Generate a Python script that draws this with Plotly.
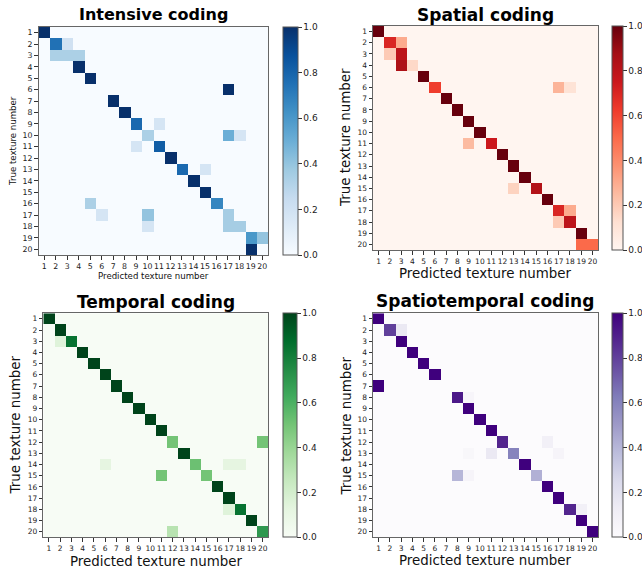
import numpy as np
import plotly.graph_objects as go
import plotly.express as px

labels = list(range(1, 21))
cb_ticks = [0.0, 0.2, 0.4, 0.6, 0.8, 1.0]
cb_text = ["0.0", "0.2", "0.4", "0.6", "0.8", "1.0"]

# Intensive coding (row = true, col = predicted)
int_rows = [1, 2, 2, 3, 3, 3, 4, 5, 6, 7, 8, 9, 9, 10, 10, 10, 11, 11, 12, 13, 13, 14, 15, 16, 16, 17, 17, 17, 18, 18, 18, 19, 19, 20]
int_cols = [1, 2, 3, 2, 3, 4, 4, 5, 17, 7, 8, 9, 11, 10, 17, 18, 9, 11, 12, 13, 15, 14, 15, 5, 16, 6, 10, 17, 10, 17, 18, 19, 20, 19]
int_vals = [1, .75, .2, .33, .33, .33, 1, 1, 1, 1, 1, .78, .17, .33, .5, .17, .17, .83, 1, .78, .17, 1, 1, .33, .67, .17, .4, .35, .17, .35, .35, .6, .4, 1]

# Spatial coding
spa_rows = [1, 2, 2, 3, 3, 4, 4, 5, 6, 6, 6, 7, 8, 9, 10, 11, 11, 12, 13, 14, 15, 15, 16, 17, 17, 18, 18, 19, 20, 20]
spa_cols = [1, 2, 3, 2, 3, 3, 4, 5, 6, 17, 18, 7, 8, 9, 10, 9, 11, 12, 13, 14, 13, 15, 16, 17, 18, 17, 18, 19, 19, 20]
spa_vals = [1, .7, .3, .2, .8, .85, .15, 1, .62, .27, .11, 1, 1, 1, 1, .25, .75, 1, 1, 1, .17, .83, 1, .7, .3, .2, .8, 1, .5, .5]

# Temporal coding
tem_rows = [1, 2, 3, 3, 4, 5, 6, 7, 8, 9, 10, 11, 12, 12, 13, 14, 14, 14, 14, 15, 15, 16, 17, 18, 18, 19, 20, 20]
tem_cols = [1, 2, 2, 3, 4, 5, 6, 7, 8, 9, 10, 11, 12, 20, 13, 6, 14, 17, 18, 11, 15, 16, 17, 17, 18, 19, 12, 20]
tem_vals = [1, 1, .15, .85, 1, 1, 1, 1, 1, 1, 1, 1, .5, .5, 1, .12, .52, .12, .12, .5, .5, 1, 1, .15, .85, 1, .3, .7]

# Spatiotemporal coding
stm_rows = [1, 2, 2, 3, 4, 5, 6, 7, 8, 8, 9, 10, 11, 12, 12, 13, 13, 13, 13, 14, 15, 15, 15, 16, 17, 18, 18, 19, 20]
stm_cols = [1, 2, 3, 3, 4, 5, 6, 1, 8, 9, 9, 10, 11, 12, 16, 9, 11, 13, 17, 14, 8, 9, 15, 16, 17, 18, 19, 19, 20]
stm_vals = [1, .8, .15, 1, 1, 1, 1, 1, .92, .05, 1, 1, 1, .88, .1, .04, .15, .6, .06, 1, .4, .06, .42, 1, 1, .88, .1, 1, 1]


def build(rows, cols, vals):
    z = np.zeros((20, 20))
    for r, c, v in zip(rows, cols, vals):
        z[r - 1, c - 1] = v
    return z


FONT = "DejaVu Sans"
panels = [
    dict(z=build(int_rows, int_cols, int_vals), cs=px.colors.sequential.Blues,
         title="Intensive coding", xd=[0.0600, 0.4175], yd=[0.5526, 0.9526],
         cbx=283 / 642, cbt=14.7, cby=0.5526, cbl=0.400, tfs=16, afs=8.6, tkfs=7.8,
         tx=153.5, ty=15, xtx=153, xty=276, ytx=13, yty=141),
    dict(z=build(spa_rows, spa_cols, spa_vals), cs=px.colors.sequential.Reds,
         title="Spatial coding", xd=[0.5810, 0.9315], yd=[0.5614, 0.9544],
         cbx=612.3 / 642, cbt=11.3, cby=0.5614, cbl=0.393, tfs=17, afs=13.4, tkfs=7.5,
         tx=485, ty=15, xtx=485, xty=274, ytx=346, yty=137),
    dict(z=build(tem_rows, tem_cols, tem_vals), cs=px.colors.sequential.Greens,
         title="Temporal coding", xd=[0.0675, 0.4180], yd=[0.0574, 0.4504],
         cbx=283.3 / 642, cbt=14.4, cby=0.0574, cbl=0.393, tfs=17, afs=13.4, tkfs=7.5,
         tx=156, ty=301.5, xtx=156, xty=561, ytx=15, yty=425.5),
    dict(z=build(stm_rows, stm_cols, stm_vals), cs=px.colors.sequential.Purples,
         title="Spatiotemporal coding", xd=[0.5810, 0.9315], yd=[0.0574, 0.4504],
         cbx=612.3 / 642, cbt=11.3, cby=0.0574, cbl=0.393, tfs=17, afs=13.4, tkfs=7.5,
         tx=485, ty=301, xtx=485, xty=560, ytx=346, yty=425.5),
]

W, H = 642, 570
fig = go.Figure()
annotations = []
for i, p in enumerate(panels):
    n = "" if i == 0 else str(i + 1)
    fig.add_trace(go.Heatmap(
        z=p["z"], x=labels, y=labels, colorscale=p["cs"], zmin=0, zmax=1,
        xaxis="x" + n, yaxis="y" + n, hoverongaps=False,
        colorbar=dict(
            x=p["cbx"], xanchor="left", y=p["cby"], yanchor="bottom",
            len=p["cbl"], lenmode="fraction", thickness=p["cbt"], thicknessmode="pixels",
            xpad=0, ypad=0, outlinewidth=1, outlinecolor="#555",
            tickvals=cb_ticks, ticktext=cb_text, ticks="outside", ticklen=3.5,
            tickcolor="#333", tickfont=dict(family=FONT, size=9, color="#222"),
        ),
    ))
    axcommon = dict(showline=True, mirror=True, linecolor="#666", linewidth=1,
                    ticks="outside", ticklen=3.5, tickcolor="#333", showgrid=False,
                    zeroline=False, tickangle=0, automargin=False,
                    tickfont=dict(family=FONT, size=p["tkfs"], color="#222"),
                    tickvals=labels, ticktext=[str(v) for v in labels])
    fig.update_layout(**{
        "xaxis" + n: dict(domain=p["xd"], range=[0.5, 20.5], anchor="y" + n, **axcommon),
        "yaxis" + n: dict(domain=p["yd"], range=[20.5, 0.5], anchor="x" + n, **axcommon),
    })
    annotations.append(dict(text="<b>%s</b>" % p["title"], x=p["tx"] / W, y=1 - p["ty"] / H,
                            xref="paper", yref="paper", showarrow=False,
                            xanchor="center", yanchor="middle",
                            font=dict(family=FONT, size=p["tfs"], color="black")))
    annotations.append(dict(text="Predicted texture number", x=p["xtx"] / W, y=1 - p["xty"] / H,
                            xref="paper", yref="paper", showarrow=False,
                            xanchor="center", yanchor="middle",
                            font=dict(family=FONT, size=p["afs"], color="#111")))
    annotations.append(dict(text="True texture number", x=p["ytx"] / W, y=1 - p["yty"] / H,
                            xref="paper", yref="paper", showarrow=False, textangle=-90,
                            xanchor="center", yanchor="middle",
                            font=dict(family=FONT, size=p["afs"], color="#111")))

fig.update_layout(width=W, height=H, margin=dict(l=0, r=0, t=0, b=0, autoexpand=False),
                  paper_bgcolor="white", plot_bgcolor="white",
                  annotations=annotations, showlegend=False)
fig.write_html("out.html", config={"displayModeBar": False},
               post_script="document.body.style.margin='0px';")
